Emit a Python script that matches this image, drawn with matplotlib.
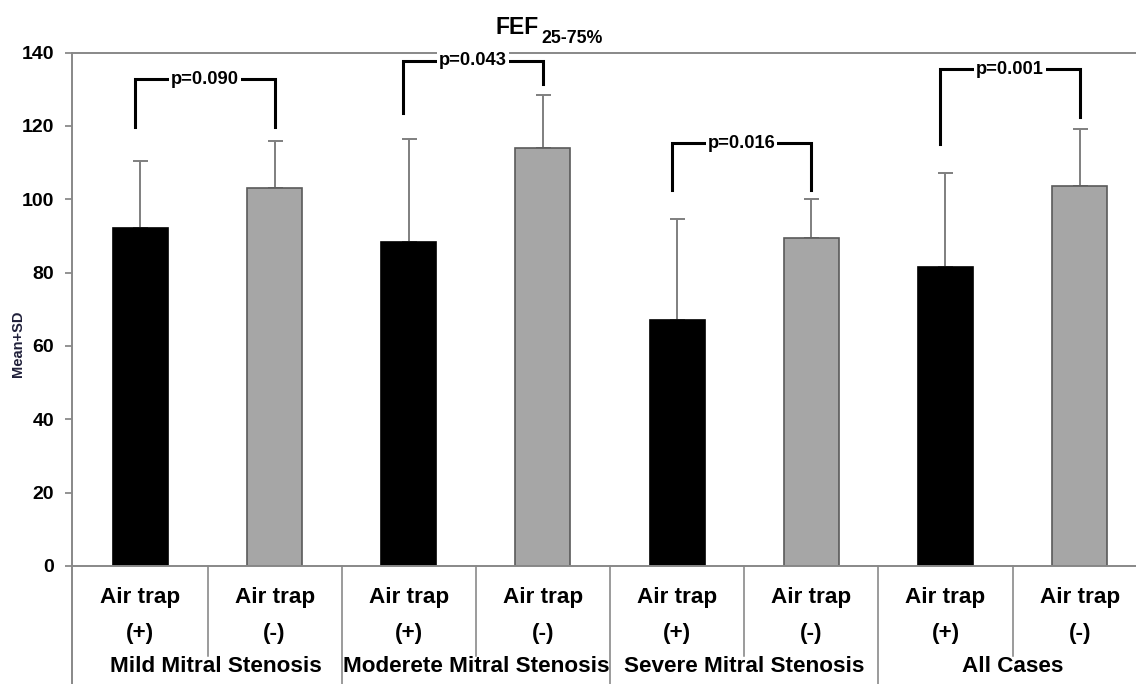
import matplotlib
matplotlib.use("Agg")
import matplotlib.pyplot as plt
from matplotlib import font_manager as fm
import numpy as np

# ---- data ----
groups = ["Mild Mitral Stenosis", "Moderete Mitral Stenosis",
          "Severe Mitral Stenosis", "All Cases"]
bar_labels = ["Air trap\n(+)", "Air trap\n(-)"] * 4
means = [92.2, 103.0, 88.3, 113.9, 67.1, 89.4, 81.6, 103.6]
sds = [18.3, 13.0, 28.2, 14.6, 27.6, 10.6, 25.7, 15.6]
p_labels = ["p=0.090", "p=0.043", "p=0.016", "p=0.001"]
bracket_top = [132.8, 137.8, 115.3, 135.5]
bracket_left_bottom = [119.7, 123.5, 102.5, 115.1]
bracket_right_bottom = [119.7, 131.5, 102.5, 122.5]
yticks = [0, 20, 40, 60, 80, 100, 120, 140]

names = {f.name for f in fm.fontManager.ttflist}
NARROW = "Liberation Sans Narrow" if "Liberation Sans Narrow" in names else "Liberation Sans"
IS_NARROW = NARROW == "Liberation Sans Narrow"
REG = "Liberation Sans"
lab_fs = 19 if IS_NARROW else 16.2
p_fs = 15 if IS_NARROW else 13.2
t_fs = 18 if IS_NARROW else 16.5
st_fs = 15 if IS_NARROW else 12.8

W, H = 1136, 684
fig = plt.figure(figsize=(W / 100, H / 100), dpi=100)
ax_left, ax_right, ax_top, ax_bot = 72, 1136, 52.7, 565.8
ax = fig.add_axes([ax_left / W, 1 - ax_bot / H, (ax_right - ax_left) / W, (ax_bot - ax_top) / H])

x = np.arange(len(means))
colors = ["black" if i % 2 == 0 else "#a6a6a6" for i in x]
edges = ["black" if i % 2 == 0 else "#5a5a5a" for i in x]
ax.bar(x, means, width=0.41, color=colors, edgecolor=edges, linewidth=1.2, zorder=2)
ax.errorbar(x, means, yerr=[np.zeros(len(sds)), sds], fmt="none", ecolor="#7f7f7f",
            elinewidth=1.4, capsize=5.4, capthick=1.4, zorder=1)

ax.set_xlim(-0.51, 7.42)
ax.set_ylim(0, 140)
ax.set_yticks(yticks)
ax.set_yticklabels([str(t) for t in yticks], fontsize=14, fontweight="bold", family=REG)
ax.tick_params(axis="y", direction="out", length=5, width=1.2, color="#808080", pad=8)
ax.set_xticks([])
for s in ["left", "top", "bottom"]:
    ax.spines[s].set_color("#888888")
    ax.spines[s].set_linewidth(1.4)
ax.spines["right"].set_visible(False)

# brackets with p-values
for k in range(4):
    xl = 2 * k - 0.04
    xr = 2 * k + 1
    top = bracket_top[k]
    ax.plot([xl, xl, xr, xr], [bracket_left_bottom[k], top, top, bracket_right_bottom[k]],
            color="black", lw=2.2, solid_joinstyle="miter", zorder=3, clip_on=False)
    ax.text((xl + xr) / 2, top, p_labels[k], ha="center", va="center", fontsize=p_fs,
            family=NARROW, fontweight="bold", zorder=4,
            bbox=dict(facecolor="white", edgecolor="none", pad=1.5))

# category labels below the axis
trans = ax.get_xaxis_transform()
ah = ax_bot - ax_top
def yfrac(py):
    return (ax_bot - py) / ah

for i, lab in enumerate(bar_labels):
    top_line, bot_line = lab.split("\n")
    ax.text(i, yfrac(598), top_line, transform=trans, ha="center", va="center",
            fontsize=lab_fs, fontweight="bold", family=NARROW)
    ax.text(i, yfrac(633), bot_line, transform=trans, ha="center", va="center",
            fontsize=lab_fs, fontweight="bold", family=NARROW)

group_centers = [0.56, 2.5, 4.5, 6.5]
for gx, g in zip(group_centers, groups):
    ax.text(gx, yfrac(667), g, transform=trans, ha="center", va="center",
            fontsize=lab_fs, fontweight="bold", family=NARROW)

# dividers
for d in [0.5, 2.5, 4.5, 6.5]:
    ax.plot([d, d], [0, yfrac(656)], transform=trans, color="#808080", lw=1.1, clip_on=False)
for d in [1.5, 3.5, 5.5]:
    ax.plot([d, d], [0, yfrac(H)], transform=trans, color="#808080", lw=1.1, clip_on=False)
ax.plot([-0.51, -0.51], [0, yfrac(H)], transform=trans, color="#888888", lw=1.4, clip_on=False)

# y label
fig.text(18 / W, 1 - 344 / H, "Mean+SD", rotation=90, ha="center", va="center",
         fontsize=10.5, fontweight="bold", family=REG, color="#20203a")

# title
fig.text(496 / W, 1 - 34 / H, "FEF", ha="left", va="baseline", fontsize=t_fs,
         fontweight="bold", family=NARROW)
fig.text(541 / W, 1 - 43 / H, "25-75%", ha="left", va="baseline", fontsize=st_fs,
         fontweight="bold", family=NARROW)

fig.savefig("out.png", dpi=100)
